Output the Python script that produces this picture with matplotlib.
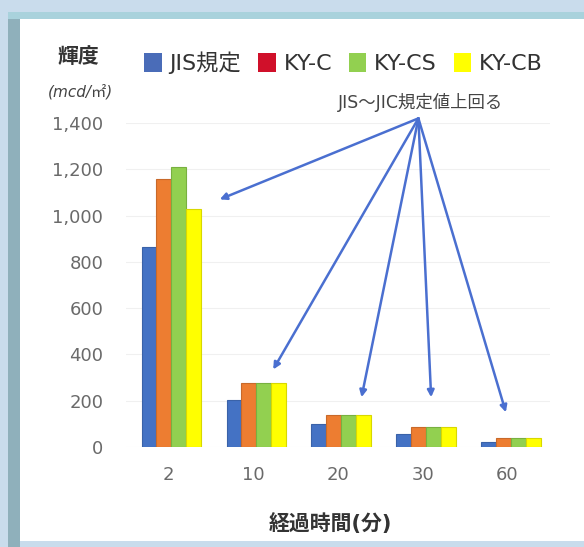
import matplotlib
matplotlib.use("Agg")
import matplotlib.pyplot as plt
from matplotlib.patches import Rectangle, Patch
import numpy as np

plt.rcParams['font.family'] = ['DejaVu Sans', 'Noto Sans CJK JP']

categories = ["2", "10", "20", "30", "60"]
series_names = ["JIS規定", "KY-C", "KY-CS", "KY-CB"]
jis = [865, 205, 100, 55, 22]
ky_c = [1160, 278, 140, 85, 40]
ky_cs = [1210, 278, 140, 85, 40]
ky_cb = [1030, 278, 140, 85, 40]
yticks = [0, 200, 400, 600, 800, 1000, 1200, 1400]
ytick_labels = ["0", "200", "400", "600", "800", "1,000", "1,200", "1,400"]

bar_colors = ["#4472c4", "#ed7d31", "#92d050", "#ffff00"]
edge_colors = ["#3a62a8", "#c8692a", "#78b040", "#d8d800"]
legend_colors = ["#4a6cb8", "#d0102a", "#92d050", "#ffff00"]

fig = plt.figure(figsize=(5.84, 5.47), dpi=100)
fig.patch.set_facecolor("#c9dcec")
W, H = 584, 547
# frame panels
fig.patches.append(Rectangle((8 / W, 0), 12 / W, 1 - 12 / H, transform=fig.transFigure,
                             facecolor="#8fb0bb", edgecolor="none", zorder=-10))
fig.patches.append(Rectangle((8 / W, 1 - 19 / H), 1, 7 / H, transform=fig.transFigure,
                             facecolor="#a9d2dc", edgecolor="none", zorder=-10))
fig.patches.append(Rectangle((20 / W, 6 / H), 1, 1 - 25 / H, transform=fig.transFigure,
                             facecolor="white", edgecolor="none", zorder=-10))

ax = fig.add_axes([125.5 / W, 1 - 447 / H, (550 - 125.5) / W, (447 - 123) / H])
ax.set_facecolor("none")

x = np.arange(len(categories))
width = 0.175
data = [jis, ky_c, ky_cs, ky_cb]
for i, vals in enumerate(data):
    ax.bar(x + (i - 1.5) * width + 0.04, vals, width, color=bar_colors[i],
           edgecolor=edge_colors[i], linewidth=0.8, zorder=3)

ax.set_ylim(0, 1400)
ax.set_xlim(-0.5, len(categories) - 0.5)
ax.set_yticks(yticks)
ax.set_yticklabels(ytick_labels)
ax.set_xticks(x)
ax.set_xticklabels(categories)
ax.tick_params(axis="both", length=0, labelsize=13, colors="#6a6a6a")
ax.tick_params(axis="y", pad=16)
ax.tick_params(axis="x", pad=14)
ax.grid(axis="y", color="#f0f0f0", linewidth=0.8, zorder=0)
for s in ax.spines.values():
    s.set_visible(False)

ax.set_xlabel("経過時間(分)", fontsize=15, fontweight="bold", color="#333333", labelpad=10)
ax.xaxis.set_label_coords((330 - 125.5) / (550 - 125.5), -(513 - 447) / (447 - 123))

# y label title
fig.text(78 / W, 1 - 57 / H, "輝度", fontsize=15, fontweight="bold", color="#333333",
         ha="center", va="center")
fig.text(80 / W, 1 - 92 / H, "(mcd/㎡)", fontsize=11, color="#444444",
         ha="center", va="center", style="italic")

# legend
handles = [Patch(facecolor=legend_colors[i], edgecolor="none") for i in range(4)]
fig.legend(handles, series_names, loc="center left", bbox_to_anchor=(124 / W, 1 - 63 / H),
           ncol=4, frameon=False, fontsize=16, handlelength=0.8, handleheight=0.9,
           handletextpad=0.35, columnspacing=0.75, labelcolor="#333333")

# annotation arrows
txt_xy = (2.98, 1490)
ax.text(txt_xy[0], txt_xy[1], "JIS～JIC規定値上回る", fontsize=12.5, color="#444444",
        ha="center", va="center", clip_on=False)
targets = [(0.61, 1070), (1.24, 335), (2.28, 215), (3.1, 215), (3.98, 150)]
start = (2.95, 1420)
for t in targets:
    ax.annotate("", xy=t, xytext=start, xycoords="data", textcoords="data",
                arrowprops=dict(arrowstyle="-|>", color="#4a6fd0", lw=1.8,
                                mutation_scale=10, shrinkA=0, shrinkB=0),
                annotation_clip=False, zorder=5)

fig.savefig("out.png", dpi=100, facecolor=fig.get_facecolor())
